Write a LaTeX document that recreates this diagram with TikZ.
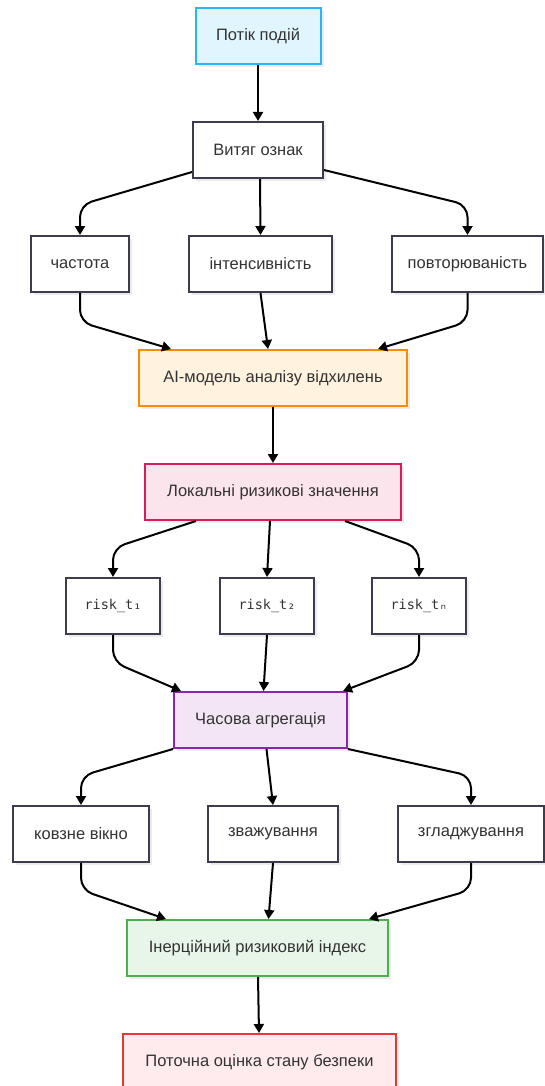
\documentclass[tikz,border=0pt]{standalone}
\usepackage{fontspec}
\setmainfont{Liberation Sans}
\newfontfamily\riskfont{DejaVu Sans Mono}
\usetikzlibrary{arrows.meta, shadows}
\definecolor{ink}{RGB}{51, 51, 51}
\definecolor{frame}{RGB}{60, 60, 78}
\definecolor{srcfill}{RGB}{225, 245, 254}
\definecolor{srcline}{RGB}{41, 182, 246}
\definecolor{aifill}{RGB}{255, 243, 224}
\definecolor{ailine}{RGB}{251, 140, 0}
\definecolor{locfill}{RGB}{252, 228, 236}
\definecolor{locline}{RGB}{216, 27, 96}
\definecolor{aggfill}{RGB}{243, 229, 245}
\definecolor{aggline}{RGB}{142, 36, 170}
\definecolor{inertfill}{RGB}{232, 245, 233}
\definecolor{inertline}{RGB}{76, 175, 80}
\definecolor{nowfill}{RGB}{255, 235, 238}
\definecolor{nowline}{RGB}{229, 57, 53}

\begin{document}
\begin{tikzpicture}[x=1pt, y=-1pt,
    box/.style={draw=frame, fill=white, line width=2pt, minimum height=56pt, inner sep=0pt,
        text=ink, font=\fontsize{16.5}{19}\selectfont,
        drop shadow={shadow xshift=3pt, shadow yshift=-3pt, fill=black, opacity=0.08}},
    riskbox/.style={box, minimum width=94pt, font=\riskfont\fontsize{13.5}{16}\selectfont},
    arr/.style={-{Triangle[length=9pt, width=10pt]}, line width=2pt, rounded corners=12pt}]
    \useasboundingbox (0,0) rectangle (545,1086);

    % Source and features
    \node[box, draw=srcline, fill=srcfill, minimum width=125pt] (src) at (258,36) {Потік подій};
    \node[box, minimum width=130pt] (feat) at (258,150) {Витяг ознак};
    \node[box, minimum width=98pt] (freq) at (80,264) {частота};
    \node[box, minimum width=143pt] (inten) at (260.5,264) {інтенсивність};
    \node[box, minimum width=151pt] (rep) at (467.5,264) {повторюваність};

    % Model and local risks
    \node[box, draw=ailine, fill=aifill, minimum width=268pt] (ai) at (273,378) {AI-модель аналізу відхилень};
    \node[box, draw=locline, fill=locfill, minimum width=256pt] (loc) at (273,492) {Локальні ризикові значення};
    \node[riskbox] (r1) at (113,606) {risk\_t₁};
    \node[riskbox] (r2) at (267,606) {risk\_t₂};
    \node[riskbox] (r3) at (419,606) {risk\_tₙ};

    % Aggregation
    \node[box, draw=aggline, fill=aggfill, minimum width=173pt] (agg) at (260.5,720) {Часова агрегація};
    \node[box, minimum width=136pt] (slide) at (81,834) {ковзне вікно};
    \node[box, minimum width=130pt] (weight) at (273,834) {зважування};
    \node[box, minimum width=146pt] (smooth) at (471,834) {згладжування};
    \node[box, draw=inertline, fill=inertfill, minimum width=261pt] (inert) at (257.5,948) {Інерційний ризиковий індекс};
    \node[box, draw=nowline, fill=nowfill, minimum width=273pt] (now) at (259.5,1062) {Поточна оцінка стану безпеки};

    % Connectors
    \draw[arr] (src) -- (feat);
    \draw[arr] ([yshift=7pt]feat.south west) -- (80,205) -- (freq.north);
    \draw[arr] ([xshift=2pt]feat.south) -- (inten.north);
    \draw[arr] ([yshift=9pt]feat.south east) -- (467.5,205) -- (rep.north);

    \draw[arr] (freq.south) -- (80,322) -- ([xshift=33pt]ai.north west);
    \draw[arr] (inten.south) -- ([xshift=-5pt]ai.north);
    \draw[arr] (rep.south) -- (467.5,322) -- ([xshift=-30pt]ai.north east);

    \draw[arr] (ai) -- (loc);
    \draw[arr] ([xshift=52pt]loc.south west) -- (113,548) -- (r1.north);
    \draw[arr] ([xshift=-3pt]loc.south) -- (r2.north);
    \draw[arr] ([xshift=-57pt]loc.south east) -- (419,548) -- (r3.north);

    \draw[arr] (r1.south) -- (113,662) -- ([xshift=8pt]agg.north west);
    \draw[arr] (r2.south) -- ([xshift=3pt]agg.north);
    \draw[arr] (r3.south) -- (419,662) -- ([xshift=-5pt]agg.north east);

    \draw[arr] (agg.south west) -- (81,776) -- (slide.north);
    \draw[arr] ([xshift=6pt]agg.south) -- (weight.north);
    \draw[arr] (agg.south east) -- (471,776) -- (smooth.north);

    \draw[arr] (slide.south) -- (81,890) -- ([xshift=40pt]inert.north west);
    \draw[arr] (weight.south) -- ([xshift=11pt]inert.north);
    \draw[arr] (smooth.south) -- (471,890) -- ([xshift=-20pt]inert.north east);

    \draw[arr] (inert) -- (now);
\end{tikzpicture}
\end{document}
